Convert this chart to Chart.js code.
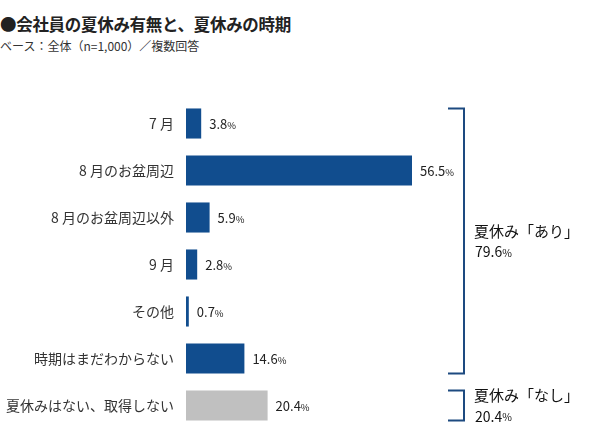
<!DOCTYPE html>
<html lang="ja">
<head>
<meta charset="UTF-8">
<title>会社員の夏休み有無と、夏休みの時期</title>
<script src="https://cdn.jsdelivr.net/npm/chart.js"></script>
<style>
  html, body { margin: 0; padding: 0; background: #fff; }
  body { width: 600px; height: 442px; position: relative; overflow: hidden;
         font-family: "Noto Sans CJK JP", "Noto Sans", sans-serif; color: #222; }
  #title { position: absolute; left: 0; top: 12px; font-size: 16.5px; font-weight: bold; letter-spacing: -0.3px; }
  #sub { position: absolute; left: 0; top: 37px; font-size: 12px; color: #333; }
  #wrap { position: absolute; left: 0; top: 0; width: 600px; height: 442px; }
</style>
</head>
<body>
<div id="title">●会社員の夏休み有無と、夏休みの時期</div>
<div id="sub">ベース：全体（n=1,000）／複数回答</div>
<div id="wrap"><canvas id="c"></canvas></div>
<script>
const categories = ["7 月", "8 月のお盆周辺", "8 月のお盆周辺以外", "9 月", "その他", "時期はまだわからない", "夏休みはない、取得しない"];
const values = [3.8, 56.5, 5.9, 2.8, 0.7, 14.6, 20.4];
const barColors = ["#114d8e", "#114d8e", "#114d8e", "#114d8e", "#114d8e", "#114d8e", "#c0c0c0"];
const groups = [
  { from: 0, to: 5, label: "夏休み「あり」", total: "79.6" },
  { from: 6, to: 6, label: "夏休み「なし」", total: "20.4" }
];

const FONT = '"Noto Sans CJK JP", "Noto Sans", sans-serif';

function drawPct(ctx, num, x, y, big, small) {
  ctx.font = big + "px " + FONT;
  ctx.fillText(num, x, y);
  const w = ctx.measureText(num).width;
  ctx.font = small + "px " + FONT;
  ctx.fillText("%", x + w, y + 1);
}

const valueLabels = {
  id: "valueLabels",
  afterDatasetsDraw(chart) {
    const ctx = chart.ctx;
    const meta = chart.getDatasetMeta(0);
    ctx.save();
    ctx.fillStyle = "#222";
    ctx.textBaseline = "middle";
    ctx.textAlign = "left";
    meta.data.forEach((bar, i) => {
      drawPct(ctx, values[i].toFixed(1), bar.x + 8, bar.y + 1, 13, 9.5);
    });
    ctx.restore();
  }
};

const brackets = {
  id: "brackets",
  afterDraw(chart) {
    const ctx = chart.ctx;
    const meta = chart.getDatasetMeta(0);
    const xLine = 464, xTick = 448;
    ctx.save();
    groups.forEach(g => {
      const a = meta.data[g.from], b = meta.data[g.to];
      const top = a.y - a.height / 2, bottom = b.y + b.height / 2;
      ctx.strokeStyle = "#1d4a80";
      ctx.lineWidth = 2;
      ctx.beginPath();
      ctx.moveTo(xTick, top);
      ctx.lineTo(xLine, top);
      ctx.lineTo(xLine, bottom);
      ctx.lineTo(xTick, bottom);
      ctx.stroke();
      const mid = (top + bottom) / 2;
      ctx.fillStyle = "#111";
      ctx.textBaseline = "middle";
      ctx.textAlign = "left";
      ctx.font = "15px " + FONT;
      ctx.fillText(g.label, 474, mid - 10);
      drawPct(ctx, g.total, 475, mid + 11, 14, 10.5);
    });
    ctx.restore();
  }
};

new Chart(document.getElementById("c"), {
  type: "bar",
  data: {
    labels: categories,
    datasets: [{
      data: values,
      backgroundColor: barColors,
      borderWidth: 0,
      categoryPercentage: 0.64,
      barPercentage: 1.0
    }]
  },
  options: {
    indexAxis: "y",
    responsive: true,
    maintainAspectRatio: false,
    animation: false,
    layout: { padding: { top: 100, bottom: 13, left: 0, right: 14 } },
    plugins: { legend: { display: false }, tooltip: { enabled: false } },
    scales: {
      x: { min: 0, max: 100, display: false, grid: { display: false } },
      y: {
        grid: { display: false },
        border: { display: false },
        ticks: { color: "#333", font: { family: FONT, size: 14 }, padding: 4 },
        afterFit(scale) { scale.width = 186; }
      }
    }
  },
  plugins: [valueLabels, brackets]
});
</script>
</body>
</html>
